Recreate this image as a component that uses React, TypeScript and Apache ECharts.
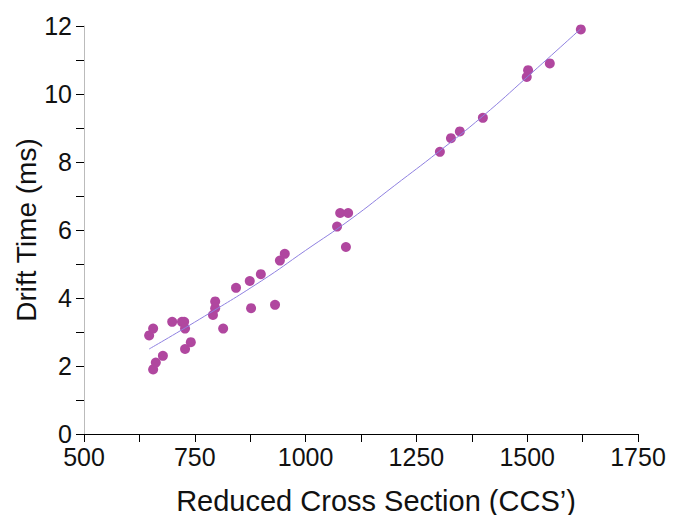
import React, { useEffect, useRef } from "react";
import * as echarts from "echarts";

const ccs: number[] = [647, 656, 656, 662, 678, 699, 721, 726, 728, 728, 741, 791, 796, 796, 814, 843, 874, 877, 899, 931, 942, 953, 1071, 1078, 1096, 1091, 1303, 1328, 1348, 1400, 1499, 1502, 1551, 1621];
const drift: number[] = [2.9, 3.1, 1.9, 2.1, 2.3, 3.3, 3.3, 3.3, 3.1, 2.5, 2.7, 3.5, 3.7, 3.9, 3.1, 4.3, 4.5, 3.7, 4.7, 3.8, 5.1, 5.3, 6.1, 6.5, 6.5, 5.5, 8.3, 8.7, 8.9, 9.3, 10.5, 10.7, 10.9, 11.9];
const fitX: number[] = [647, 760, 900, 1000, 1100, 1200, 1300, 1400, 1500, 1621];
const fitY: number[] = [2.5, 3.37, 4.5, 5.4, 6.3, 7.3, 8.3, 9.35, 10.5, 11.92];
const xTicks: number[] = [500, 750, 1000, 1250, 1500, 1750];

export default function App() {
  const ref = useRef<HTMLDivElement>(null);
  useEffect(() => {
    const chart = echarts.init(ref.current!, null, { renderer: "svg" });
    const font = "'Liberation Sans', Arial, sans-serif";
    chart.setOption({
      animation: false,
      grid: { left: 84, right: 49, top: 26, bottom: 81, containLabel: false, outerBoundsMode: "none" },
      xAxis: {
        type: "value",
        min: xTicks[0],
        max: xTicks[xTicks.length - 1],
        interval: 250,
        name: "Reduced Cross Section (CCS\u2019)",
        nameLocation: "middle",
        nameGap: 52,
        nameTextStyle: { fontSize: 29, color: "#111", fontFamily: font, padding: [0, 0, 0, 30] },
        axisLine: { show: true, lineStyle: { color: "#000", width: 1 } },
        axisTick: { show: true, length: 8, lineStyle: { color: "#000" } },
        minorTick: { show: true, splitNumber: 2, length: 8, lineStyle: { color: "#000" } },
        axisLabel: { fontSize: 25, color: "#111", fontFamily: font, margin: 10, formatter: (v: number) => String(v) },
        splitLine: { show: false },
      },
      yAxis: {
        type: "value",
        min: 0,
        max: 12,
        interval: 2,
        name: "Drift Time (ms)",
        nameLocation: "middle",
        nameGap: 44,
        nameMoveOverlap: false,
        nameTextStyle: { fontSize: 28, color: "#111", fontFamily: font },
        axisLine: { show: true, lineStyle: { color: "#bbb", width: 1 } },
        axisTick: { show: true, length: 8, lineStyle: { color: "#000" } },
        minorTick: { show: true, splitNumber: 2, length: 8, lineStyle: { color: "#000" } },
        axisLabel: { fontSize: 25, color: "#111", fontFamily: font, margin: 12 },
        splitLine: { show: false },
      },
      series: [
        {
          type: "line",
          data: fitX.map((x, i) => [x, fitY[i]]),
          smooth: true,
          showSymbol: false,
          lineStyle: { color: "#8f80e0", width: 1 },
          z: 3,
        },
        {
          type: "scatter",
          data: ccs.map((x, i) => [x, drift[i]]),
          symbolSize: 10,
          itemStyle: { color: "#b0479f", opacity: 1 },
          z: 2,
        },
      ],
    });
    return () => chart.dispose();
  }, []);
  return <div ref={ref} style={{ width: 687, height: 515, position: "absolute", left: 0, top: 0 }} />;
}
